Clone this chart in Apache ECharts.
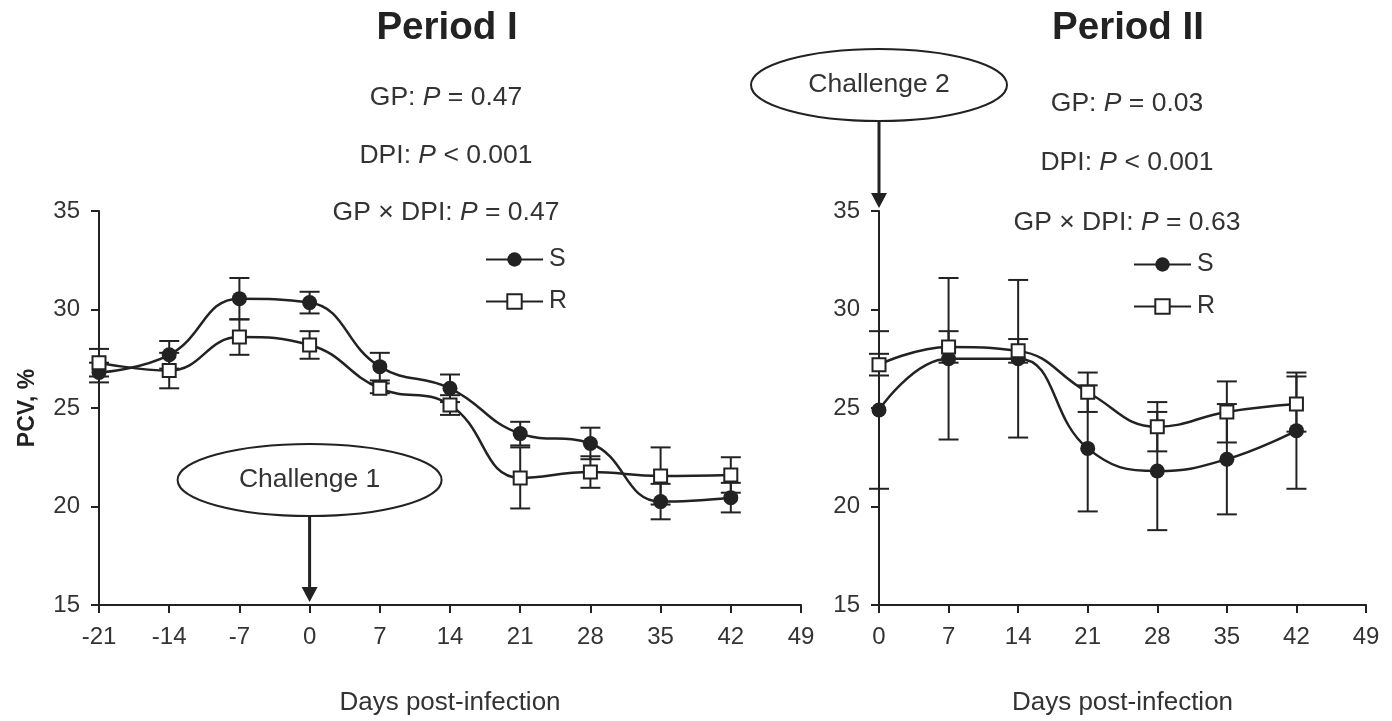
<!DOCTYPE html>
<html>
<head>
<meta charset="utf-8">
<script src="https://cdn.jsdelivr.net/npm/echarts@6/dist/echarts.min.js"></script>
<style>
html,body{margin:0;padding:0;background:#fff;}
#chart{width:1392px;height:721px;}
</style>
</head>
<body>
<div id="chart"></div>
<script>
// ---- Data ----
const daysI = [-21, -14, -7, 0, 7, 14, 21, 28, 35, 42];
const sI    = [26.8, 27.7, 30.55, 30.35, 27.1, 26.0, 23.7, 23.2, 20.25, 20.45];
const sIErr = [0.5, 0.7, 1.05, 0.55, 0.7, 0.7, 0.6, 0.8, 0.9, 0.75];
const rI    = [27.3, 26.9, 28.6, 28.2, 26.0, 25.15, 21.45, 21.75, 21.55, 21.6];
const rIErr = [0.7, 0.9, 0.9, 0.7, 0.25, 0.5, 1.55, 0.8, 1.45, 0.9];

const daysII = [0, 7, 14, 21, 28, 35, 42];
const sII    = [24.9, 27.5, 27.5, 22.95, 21.8, 22.4, 23.85];
const sIIErr = [4.0, 4.1, 4.0, 3.2, 3.0, 2.8, 2.95];
const rII    = [27.2, 28.1, 27.9, 25.8, 24.05, 24.8, 25.2];
const rIIErr = [0.55, 0.8, 0.6, 1.0, 1.25, 1.55, 1.4];

const statsI  = [['GP: ', '= 0.47'], ['DPI: ', '< 0.001'], ['GP × DPI: ', '= 0.47']];
const statsII = [['GP: ', '= 0.03'], ['DPI: ', '< 0.001'], ['GP × DPI: ', '= 0.63']];

// ---- Styles ----
const INK = '#222';
const TXT = '#333';
const FONT = '"Liberation Sans", Arial, Helvetica, sans-serif';

const chart = echarts.init(document.getElementById('chart'));

function pairs(x, y) { return x.map((d, i) => [d, y[i]]); }
function errData(x, y, e) { return x.map((d, i) => [d, y[i] - e[i], y[i] + e[i]]); }

function renderErr(params, api) {
  const x = api.value(0), lo = api.value(1), hi = api.value(2);
  const pH = api.coord([x, hi]), pL = api.coord([x, lo]);
  const hw = 10;
  const st = { stroke: INK, lineWidth: 2 };
  return {
    type: 'group',
    children: [
      { type: 'line', shape: { x1: pH[0], y1: pH[1], x2: pL[0], y2: pL[1] }, style: st },
      { type: 'line', shape: { x1: pH[0] - hw, y1: pH[1], x2: pH[0] + hw, y2: pH[1] }, style: st },
      { type: 'line', shape: { x1: pL[0] - hw, y1: pL[1], x2: pL[0] + hw, y2: pL[1] }, style: st }
    ]
  };
}

function errSeries(name, idx, data) {
  return {
    name: name, type: 'custom', xAxisIndex: idx, yAxisIndex: idx,
    renderItem: renderErr, data: data, encode: { x: 0, y: [1, 2] },
    clip: false, z: 1, silent: true
  };
}
function sSeries(idx, data) {
  return {
    name: 'S', type: 'line', xAxisIndex: idx, yAxisIndex: idx, data: data,
    smooth: 0.45, symbol: 'circle', symbolSize: 15, showAllSymbol: true,
    lineStyle: { color: INK, width: 2.5 },
    itemStyle: { color: INK, borderColor: INK, borderWidth: 0 },
    z: 3, clip: false
  };
}
function rSeries(idx, data) {
  return {
    name: 'R', type: 'line', xAxisIndex: idx, yAxisIndex: idx, data: data,
    smooth: 0.45, symbol: 'rect', symbolSize: 13, showAllSymbol: true,
    lineStyle: { color: INK, width: 2.5 },
    itemStyle: { color: '#fff', borderColor: INK, borderWidth: 2 },
    z: 4, clip: false
  };
}

const axisLine = { show: true, onZero: false, lineStyle: { color: INK, width: 2 } };
const axisTick = { show: true, inside: false, length: 8, lineStyle: { color: INK, width: 2 } };
const axisLabel = { color: TXT, fontSize: 24, fontFamily: FONT };

function xAx(idx, min) {
  return {
    type: 'value', gridIndex: idx, min: min, max: 49, interval: 7,
    axisLine: axisLine, axisTick: axisTick, splitLine: { show: false },
    axisLabel: Object.assign({ margin: 20 }, axisLabel),
    name: 'Days post-infection', nameLocation: 'middle', nameGap: 85,
    nameTextStyle: { color: TXT, fontSize: 26, fontFamily: FONT }
  };
}
function yAx(idx, withName) {
  const a = {
    type: 'value', gridIndex: idx, min: 15, max: 35, interval: 5,
    axisLine: axisLine, axisTick: axisTick, splitLine: { show: false },
    axisLabel: Object.assign({ margin: 19 }, axisLabel)
  };
  if (withName) {
    a.name = 'PCV, %'; a.nameLocation = 'middle'; a.nameGap = 60; a.nameRotate = 90;
    a.nameTextStyle = { color: INK, fontSize: 23, fontWeight: 'bold', fontFamily: FONT };
  }
  return a;
}

function legend(left, top) {
  return {
    data: ['S', 'R'], orient: 'vertical', left: left, top: top, padding: 0,
    itemWidth: 57, itemHeight: 18, itemGap: 17, selectedMode: false,
    textStyle: { color: TXT, fontSize: 25, fontFamily: FONT, lineHeight: 19, padding: [0, 0, 0, 1] }
  };
}

chart.setOption({
  animation: false,
  backgroundColor: '#fff',
  grid: [
    { left: 99, top: 211, width: 702, height: 395 },
    { left: 879, top: 211, width: 487, height: 395 }
  ],
  xAxis: [xAx(0, -21), xAx(1, 0)],
  yAxis: [yAx(0, true), yAx(1, false)],
  legend: [legend(485, 247), legend(1133, 252)],
  series: [
    errSeries('S err I', 0, errData(daysI, sI, sIErr)),
    errSeries('R err I', 0, errData(daysI, rI, rIErr)),
    sSeries(0, pairs(daysI, sI)),
    rSeries(0, pairs(daysI, rI)),
    errSeries('S err II', 1, errData(daysII, sII, sIIErr)),
    errSeries('R err II', 1, errData(daysII, rII, rIIErr)),
    sSeries(1, pairs(daysII, sII)),
    rSeries(1, pairs(daysII, rII))
  ]
});

// ---- Annotations ----
function statText(cx, cy, pair) {
  return {
    type: 'text', x: cx, y: cy, z: 10,
    style: {
      text: '{a|' + pair[0] + '}{i|P}{a| ' + pair[1] + '}',
      align: 'center', verticalAlign: 'middle',
      rich: {
        a: { fontSize: 26.5, fontFamily: FONT, fill: TXT, color: TXT },
        i: { fontSize: 26.5, fontFamily: FONT, fontStyle: 'italic', fill: TXT, color: TXT }
      }
    }
  };
}
function titleText(cx, cy, t) {
  return {
    type: 'text', x: cx, y: cy, z: 10,
    style: { text: t, fontSize: 38.5, fontWeight: 'bold', fontFamily: FONT, fill: INK, align: 'center', verticalAlign: 'middle' }
  };
}
function callout(cx, cy, rx, ry, label, tipY) {
  const headH = 15, headW = 8;
  return [
    { type: 'ellipse', z: 10, shape: { cx: cx, cy: cy, rx: rx, ry: ry }, style: { fill: '#fff', stroke: INK, lineWidth: 2 } },
    { type: 'text', z: 11, x: cx, y: cy, style: { text: label, fontSize: 26.5, fontFamily: FONT, fill: TXT, align: 'center', verticalAlign: 'middle' } },
    { type: 'line', z: 10, shape: { x1: cx, y1: cy + ry, x2: cx, y2: tipY - headH + 1 }, style: { stroke: INK, lineWidth: 3 } },
    { type: 'polygon', z: 10, shape: { points: [[cx - headW, tipY - headH], [cx + headW, tipY - headH], [cx, tipY]] }, style: { fill: INK } }
  ];
}

const p1 = chart.convertToPixel({ xAxisIndex: 0, yAxisIndex: 0 }, [0, 15]);
const p2 = chart.convertToPixel({ xAxisIndex: 1, yAxisIndex: 1 }, [0, 35]);

const g = [
  titleText(447, 28, 'Period I'),
  titleText(1128, 28, 'Period II'),
  statText(446, 98, statsI[0]),
  statText(446, 156, statsI[1]),
  statText(446, 213, statsI[2]),
  statText(1127, 104, statsII[0]),
  statText(1127, 163, statsII[1]),
  statText(1127, 223, statsII[2])
].concat(callout(p1[0], 480, 132, 36, 'Challenge 1', p1[1] - 3))
 .concat(callout(p2[0], 85, 128, 36, 'Challenge 2', p2[1] - 3));

chart.setOption({ graphic: g });
</script>
</body>
</html>
